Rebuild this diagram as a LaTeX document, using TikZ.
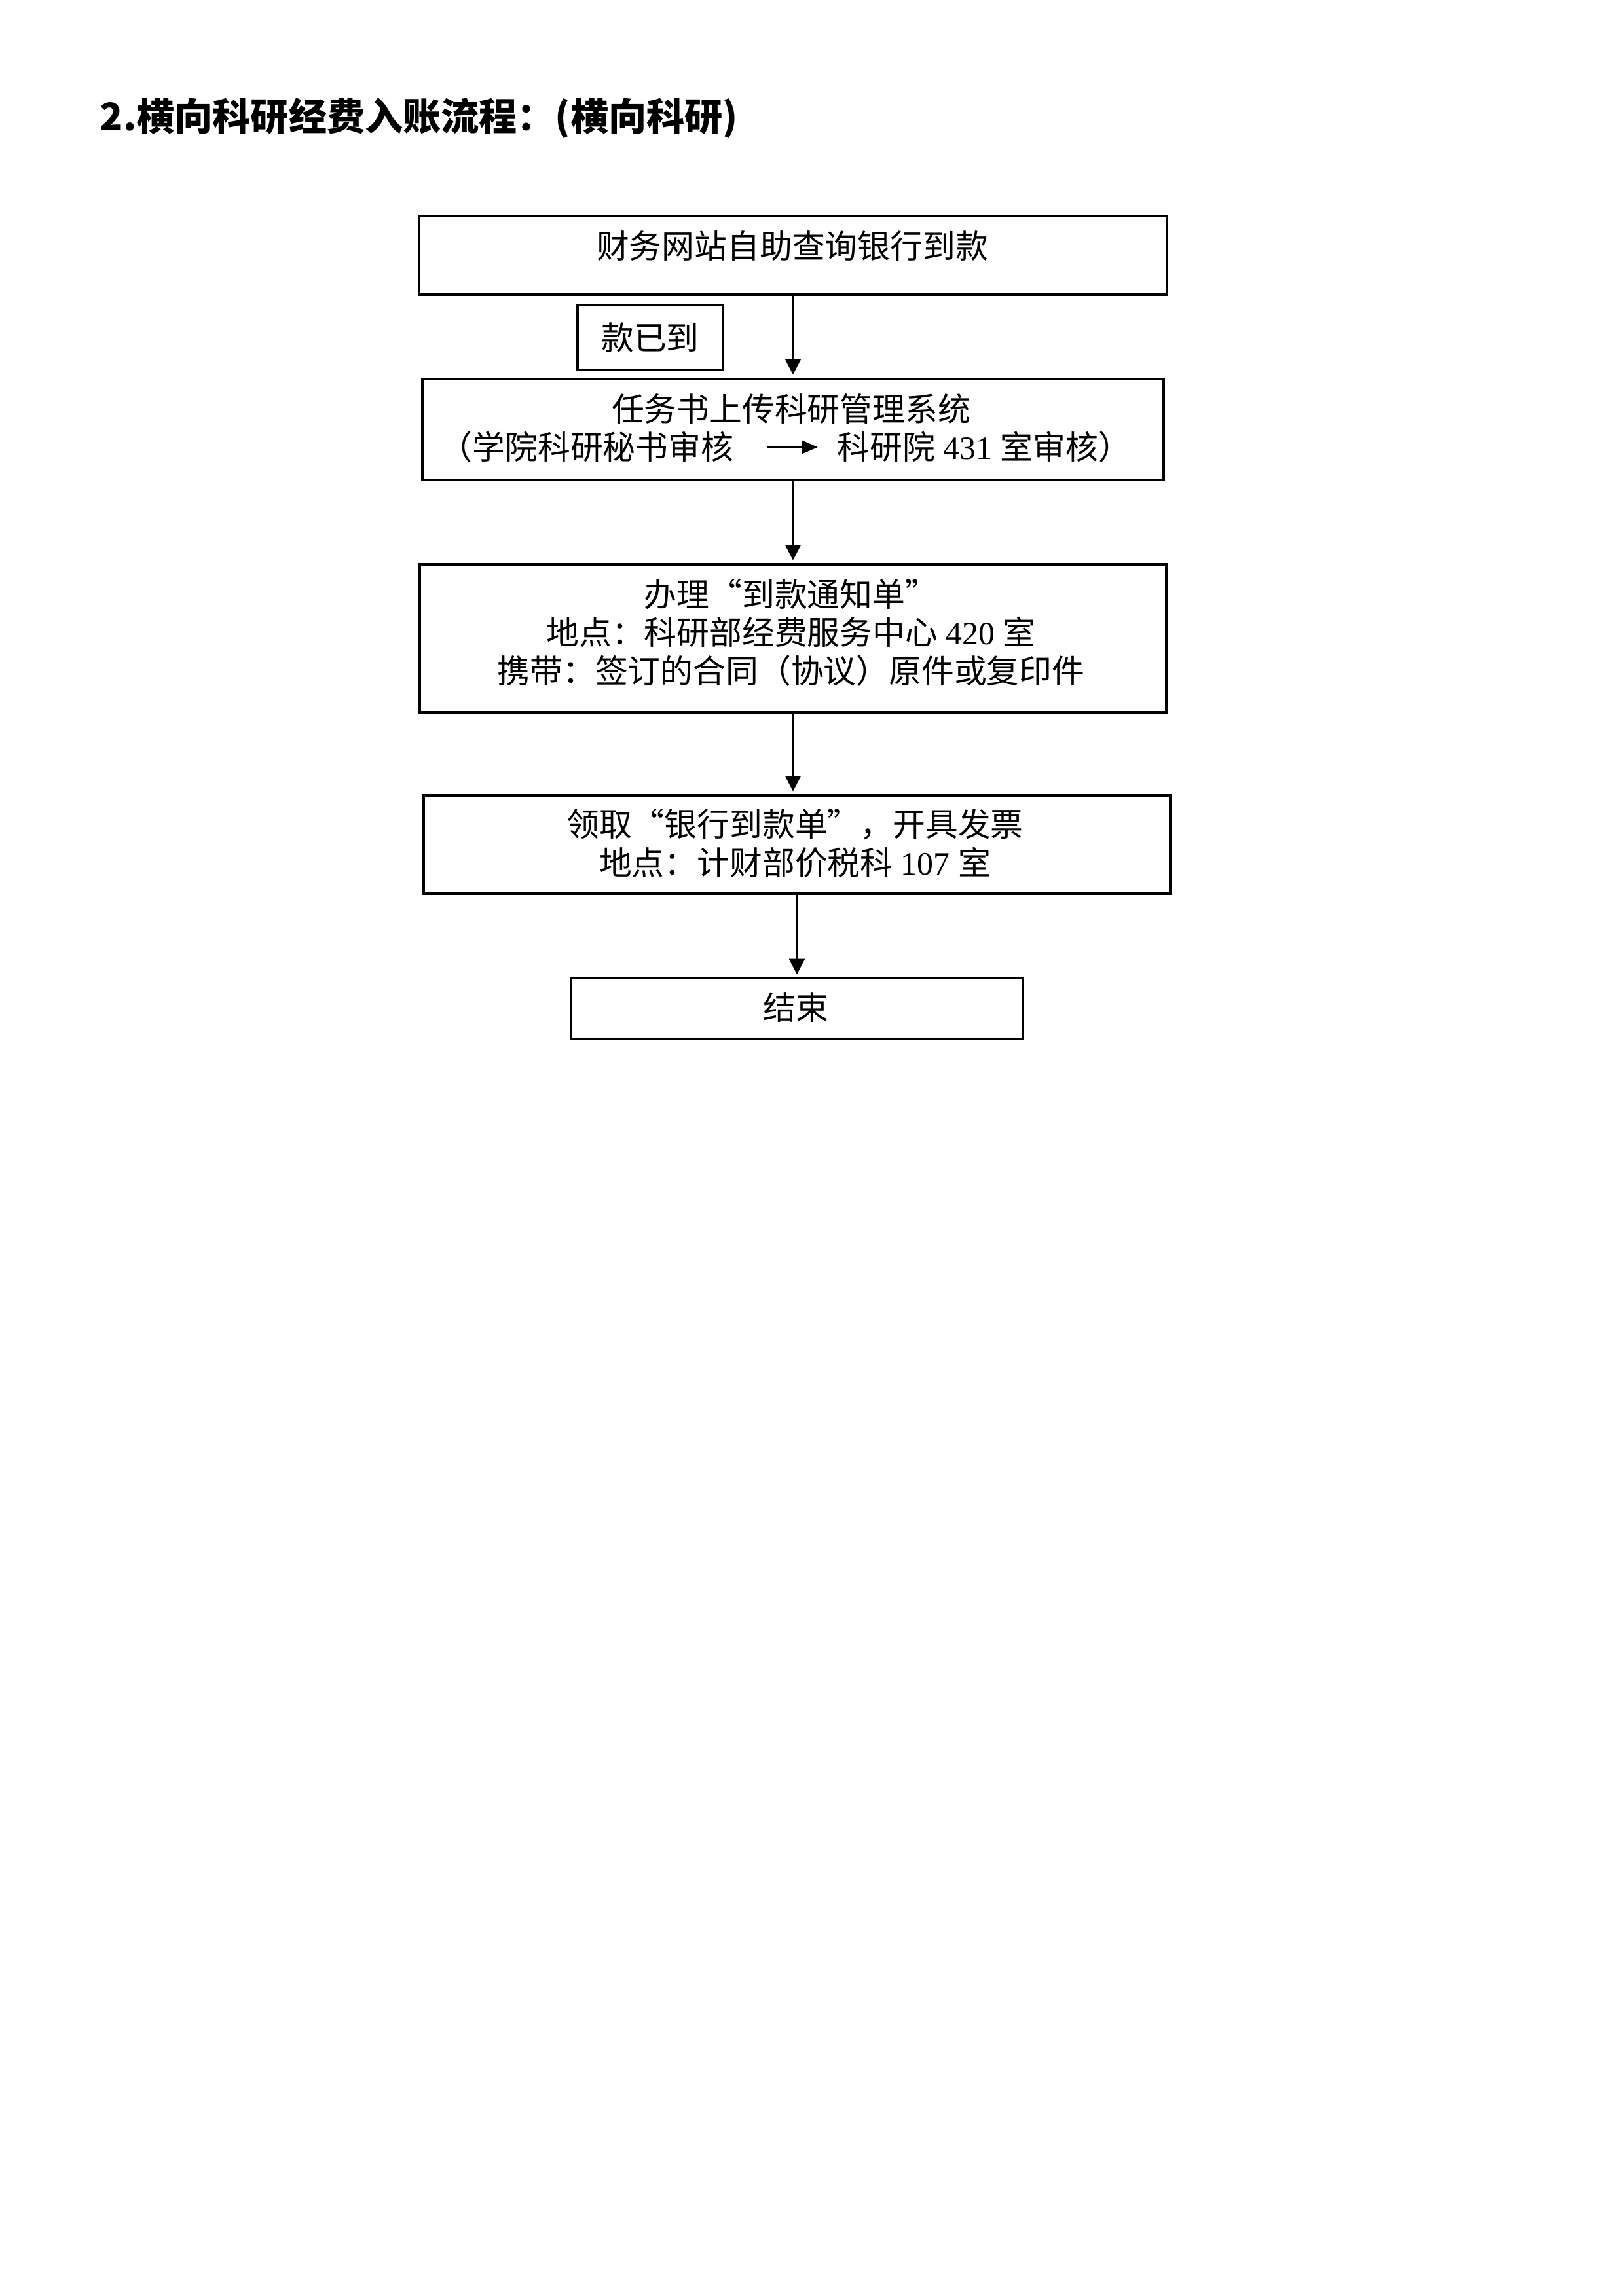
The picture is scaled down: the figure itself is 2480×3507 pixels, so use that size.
\documentclass[tikz,border=0pt]{standalone}
\usepackage{fontspec}
\setmainfont{Liberation Serif}
\newfontfamily\cjk{Noto Sans CJK SC}
\newcommand\latn[1]{{\rmfamily #1}}
\usetikzlibrary{arrows.meta}
\newdimen\PX \PX=0.0846667mm
\begin{document}
\begin{tikzpicture}[x=0.0846667mm,y=-0.0846667mm,
  box/.style={draw, line width=0.75pt, inner sep=0pt},
  txt/.style={font=\fontsize{12}{14.1}\selectfont\cjk, align=center, inner sep=0pt},
  flow/.style={-{Triangle[width=2mm,length=2mm]}, line width=0.75pt, shorten >=0.4mm},
  inarrow/.style={-{Triangle[width=1.7mm,length=2.1mm]}, line width=1pt}]
\useasboundingbox (0,0) rectangle (2480,3507);
% title
\node[anchor=west, inner sep=0pt, font=\fontsize{14}{16}\selectfont\cjk\bfseries] (title) at (152,180) {2.横向科研经费入账流程：(横向科研)};
% boxes
\node[box, minimum width=1142\PX, minimum height=120\PX] (b1) at (1211,390) {};
\node[box, minimum width=222\PX, minimum height=99\PX, txt] (k) at (993,516) {款已到};
\node[box, minimum width=1132\PX, minimum height=155\PX] (b2) at (1211,656) {};
\node[box, minimum width=1140\PX, minimum height=226\PX] (b3) at (1211,975) {};
\node[box, minimum width=1140\PX, minimum height=150\PX] (b4) at (1217,1290) {};
\node[box, minimum width=690\PX, minimum height=93\PX] (b5) at (1217,1541) {};
% texts
\node[txt] (t1) at (1210,376) {财务网站自助查询银行到款};
\node[txt] (t2a) at (1208,625) {任务书上传科研管理系统};
\node[txt, anchor=east] (t2b) at (1121,683) {（学院科研秘书审核};
\node[txt, anchor=west] (t2c) at (1278,683) {科研院\latn{ 431 }室审核）};
\node[txt] (t3) at (1208,966) {办理“到款通知单”\\地点：科研部经费服务中心\latn{ 420 }室\\携带：签订的合同（协议）原件或复印件};
\node[txt] (t4) at (1214,1288) {领取“银行到款单”，开具发票\\地点：计财部价税科\latn{ 107 }室};
\node[txt] (t5) at (1215,1539) {结束};
% connectors
\draw[inarrow, shorten <=51\PX, shorten >=29\PX] (t2b.east) -- (t2c.west);
\draw[flow] (b1.south) -- (b1.south |- b2.north);
\draw[flow] (b2.south) -- (b2.south |- b3.north);
\draw[flow] (b3.south) -- (b3.south |- b4.north);
\draw[flow] (b4.south) -- (b4.south |- b5.north);
\end{tikzpicture}
\end{document}
